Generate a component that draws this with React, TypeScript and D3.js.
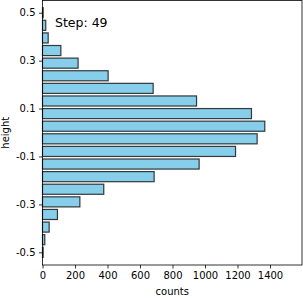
import React, { useEffect, useRef } from 'react';
import * as d3 from 'd3';

const width = 303;
const height = 298;

// bin centres go from 0.5 down to -0.5 (20 bins)
const binCenters = d3.range(20).map(i => 0.5 - i / 19);
const counts = [4, 20, 35, 113, 219, 404, 681, 948, 1286, 1368, 1321, 1188, 964, 687, 377, 230, 92, 41, 14, 4];
const xTicks = [0, 200, 400, 600, 800, 1000, 1200, 1400];
const yTicks = [0.5, 0.3, 0.1, -0.1, -0.3, -0.5];
const stepLabel = 'Step: 49';

const margin = { top: 0.5, right: 1, bottom: 33, left: 42.5 };

const App: React.FC = () => {
  const ref = useRef<SVGSVGElement>(null);

  useEffect(() => {
    if (!ref.current) return;
    const svg = d3.select(ref.current);
    svg.selectAll('*').remove();

    const x = d3
      .scaleLinear()
      .domain([0, 1597])
      .range([margin.left, width - margin.right]);
    const y = d3
      .scaleLinear()
      .domain([-0.553, 0.551])
      .range([height - margin.bottom, margin.top]);

    const binH = (y(0) - y(1 / 19)) * 0.8;

    svg
      .append('g')
      .selectAll('rect')
      .data(counts)
      .enter()
      .append('rect')
      .attr('x', x(0))
      .attr('y', (d, i) => y(binCenters[i]) - binH / 2)
      .attr('width', d => x(d) - x(0))
      .attr('height', binH)
      .attr('fill', '#87CEEB')
      .attr('stroke', '#1a1a1a')
      .attr('stroke-opacity', 0.85)
      .attr('stroke-width', 1.2);

    // frame
    svg
      .append('rect')
      .attr('x', margin.left)
      .attr('y', margin.top)
      .attr('width', width - margin.right - margin.left)
      .attr('height', height - margin.bottom - margin.top)
      .attr('fill', 'none')
      .attr('stroke', '#000')
      .attr('stroke-width', 0.8);

    const font = 'DejaVu Sans, sans-serif';

    const xAxis = svg
      .append('g')
      .attr('transform', `translate(0,${height - margin.bottom})`)
      .call(d3.axisBottom(x).tickValues(xTicks).tickSize(3.5).tickPadding(3.5).tickFormat(d3.format('d')));
    xAxis.select('.domain').remove();

    const yAxis = svg
      .append('g')
      .attr('transform', `translate(${margin.left},0)`)
      .call(
        d3
          .axisLeft(y)
          .tickValues(yTicks)
          .tickSize(3.5)
          .tickPadding(3.5)
          .tickFormat(d => (+d).toFixed(1).replace('\u2212', '-'))
      );
    yAxis.select('.domain').remove();

    svg
      .selectAll('.tick text')
      .attr('font-family', font)
      .attr('font-size', 10)
      .attr('fill', '#000');
    svg.selectAll('.tick line').attr('stroke', '#000').attr('stroke-width', 0.8);

    svg
      .append('text')
      .attr('x', (margin.left + width - margin.right) / 2)
      .attr('y', 295)
      .attr('text-anchor', 'middle')
      .attr('font-family', font)
      .attr('font-size', 10)
      .text('counts');

    svg
      .append('text')
      .attr('transform', `translate(9,${(margin.top + height - margin.bottom) / 2}) rotate(-90)`)
      .attr('text-anchor', 'middle')
      .attr('font-family', font)
      .attr('font-size', 10)
      .text('height');

    svg
      .append('text')
      .attr('x', 55)
      .attr('y', 27)
      .attr('font-family', font)
      .attr('font-size', 12.5)
      .text(stepLabel);
  }, []);

  return (
    <svg
      ref={ref}
      width={width}
      height={height}
      style={{ position: 'absolute', top: 0, left: 0, background: '#fff' }}
    />
  );
};

export default App;
